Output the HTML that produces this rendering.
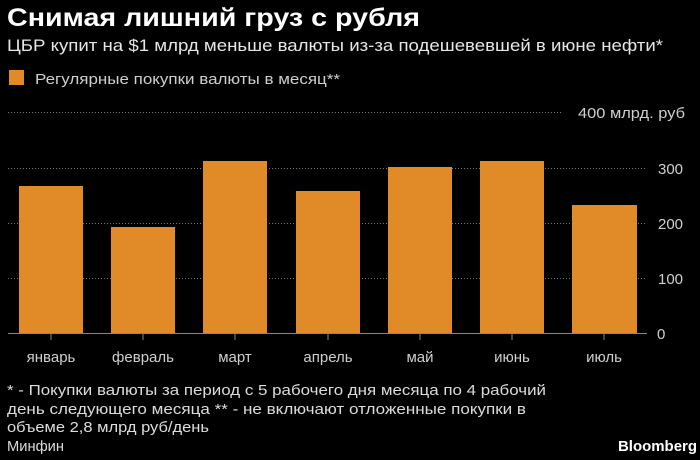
<!DOCTYPE html>
<html><head><meta charset="utf-8"><style>html,body{margin:0;padding:0;background:#000;}svg{display:block}</style></head>
<body>
<svg width="700" height="460" xmlns="http://www.w3.org/2000/svg" font-family="Liberation Sans, sans-serif">
<rect width="700" height="460" fill="#000"/>
<text x="7" y="26" fill="#fff" font-size="25" font-weight="bold" textLength="413" lengthAdjust="spacingAndGlyphs">Снимая лишний груз с рубля</text>
<text x="7" y="51" fill="#e6e6e6" font-size="17" textLength="656" lengthAdjust="spacingAndGlyphs">ЦБР купит на $1 млрд меньше валюты из-за подешевевшей в июне нефти*</text>
<rect x="9" y="70" width="15" height="15" fill="#e08a28"/>
<text x="35" y="84" fill="#cfcfcf" font-size="15" textLength="305" lengthAdjust="spacingAndGlyphs">Регулярные покупки валюты в месяц**</text>
<g stroke="#777" stroke-width="1" stroke-dasharray="1,2">
<line x1="8" y1="112.5" x2="563" y2="112.5"/>
<line x1="8" y1="168.5" x2="647" y2="168.5"/>
<line x1="8" y1="223.5" x2="647" y2="223.5"/>
<line x1="8" y1="278.5" x2="647" y2="278.5"/>
</g>
<g fill="#e08a28">
<rect x="19" y="186" width="64" height="147"/>
<rect x="111" y="227" width="64" height="106"/>
<rect x="203" y="161" width="64" height="172"/>
<rect x="296" y="191" width="64" height="142"/>
<rect x="388" y="167" width="64" height="166"/>
<rect x="480" y="161" width="64" height="172"/>
<rect x="572" y="205" width="65" height="128"/>
</g>
<line x1="8" y1="333.5" x2="647" y2="333.5" stroke="#888" stroke-width="1"/>
<g stroke="#888" stroke-width="1">
<line x1="51" y1="334" x2="51" y2="340"/><line x1="143" y1="334" x2="143" y2="340"/><line x1="235" y1="334" x2="235" y2="340"/><line x1="328" y1="334" x2="328" y2="340"/><line x1="420" y1="334" x2="420" y2="340"/><line x1="512" y1="334" x2="512" y2="340"/><line x1="604" y1="334" x2="604" y2="340"/>
</g>
<g fill="#cfcfcf" font-size="15">
<text x="578" y="118" textLength="107" lengthAdjust="spacingAndGlyphs">400 млрд. руб</text>
<text x="658" y="174">300</text>
<text x="658" y="229">200</text>
<text x="658" y="284">100</text>
<text x="657" y="339">0</text>
</g>
<g fill="#cfcfcf" font-size="15" text-anchor="middle">
<text x="51" y="362">январь</text><text x="143" y="362">февраль</text><text x="235" y="362">март</text><text x="328" y="362">апрель</text><text x="420" y="362">май</text><text x="512" y="362">июнь</text><text x="604" y="362">июль</text>
</g>
<g fill="#dcdcdc" font-size="15">
<text x="7" y="395" textLength="539" lengthAdjust="spacingAndGlyphs">* - Покупки валюты за период с 5 рабочего дня месяца по 4 рабочий</text>
<text x="7" y="414" textLength="519" lengthAdjust="spacingAndGlyphs">день следующего месяца ** - не включают отложенные покупки в</text>
<text x="7" y="432" textLength="202" lengthAdjust="spacingAndGlyphs">объеме 2,8 млрд руб/день</text>
<text x="7" y="451" textLength="57" lengthAdjust="spacingAndGlyphs">Минфин</text>
</g>
<text x="697" y="451" fill="#fff" font-size="15" font-weight="bold" text-anchor="end" textLength="79" lengthAdjust="spacingAndGlyphs">Bloomberg</text>
</svg>
</body></html>
